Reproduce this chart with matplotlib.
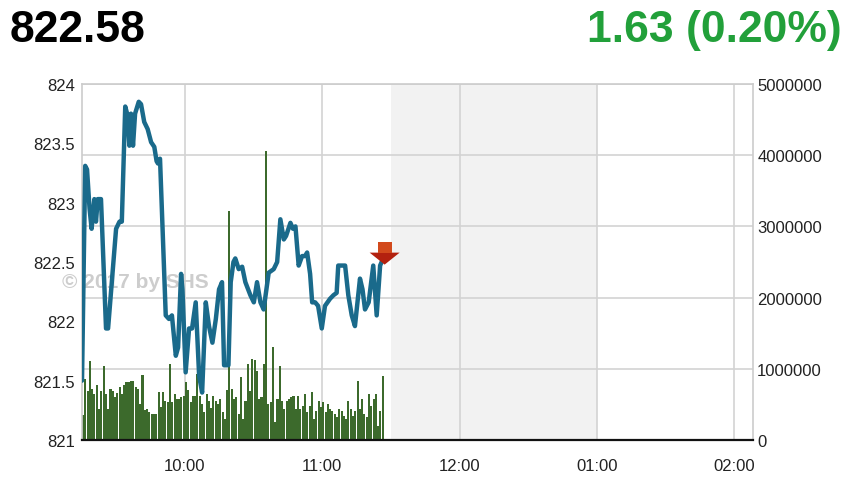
import matplotlib
matplotlib.use("Agg")
import matplotlib.pyplot as plt
from matplotlib.patches import Polygon
from matplotlib.transforms import Affine2D, ScaledTranslation

plt.rcParams['font.family'] = ['Liberation Sans', 'DejaVu Sans']

# ---------------- data ----------------
header_value = "822.58"
header_change = "1.63 (0.20%)"

session_start_hour = 9.25          # 09:15
# price trace: minutes after 09:15, index level
price_minutes = [0, 1.4, 2.2, 3.3, 4.2, 5.4, 6.1, 6.9, 8.3, 10.5,
                 11.4, 14.9, 16.4, 17.4, 18.9, 20.0, 20.7, 21.4, 22.3, 23.2,
                 24.8, 25.8, 27.2, 28.7, 30.2, 31.6, 32.6, 33.2, 34.1, 36.6,
                 38.0, 39.3, 41.0, 42.0, 43.3, 43.9, 45.3, 46.8, 48.1, 49.7,
                 51.2, 52.5, 54.1, 55.5, 57.0, 58.5, 59.9, 61.2, 62.1, 64.0,
                 65.0, 66.2, 67.0, 68.5, 70.0, 71.4, 73.6, 75.1, 76.5, 78.0,
                 79.4, 81.6, 83.8, 85.3, 86.7, 88.2, 89.2, 91.1, 92.2, 93.3,
                 94.7, 96.2, 97.5, 98.4, 99.7, 100.6, 101.9, 103.2, 104.8, 106.2,
                 108.4, 109.9, 111.3, 112.0, 113.7, 115.0, 116.4, 117.9, 119.3, 121.5,
                 122.6, 123.7, 125.3, 127.3, 128.8, 130.3, 131.4]
prices = [821.50, 823.31, 823.28, 822.95, 822.78, 823.03, 822.84, 823.03, 823.03, 821.94,
          821.94, 822.78, 822.84, 822.84, 823.81, 823.73, 823.48, 823.75, 823.48, 823.75,
          823.85, 823.83, 823.68, 823.62, 823.51, 823.47, 823.35, 823.33, 823.37, 822.05,
          822.02, 822.05, 821.71, 821.78, 822.40, 822.27, 821.57, 821.94, 821.94, 822.16,
          821.54, 821.40, 822.16, 821.96, 821.82, 822.02, 822.27, 822.33, 821.63, 821.63,
          822.33, 822.50, 822.53, 822.44, 822.46, 822.33, 822.22, 822.16, 822.33, 822.16,
          822.10, 822.41, 822.44, 822.50, 822.86, 822.69, 822.72, 822.83, 822.78, 822.80,
          822.47, 822.55, 822.55, 822.58, 822.40, 822.16, 822.16, 822.13, 821.94, 822.13,
          822.19, 822.22, 822.24, 822.47, 822.47, 822.47, 822.22, 822.05, 821.96, 822.36,
          822.27, 822.10, 822.16, 822.47, 822.05, 822.47, 822.52]

# volume per minute (millions of shares)
volumes_m = [0.35, 0.85, 0.69, 1.11, 0.72, 0.65, 0.77, 0.43, 0.69, 1.04,
             0.65, 0.43, 0.72, 0.69, 0.60, 0.66, 0.74, 0.65, 0.77, 0.82,
             0.82, 0.83, 0.83, 0.74, 0.72, 0.51, 0.91, 0.42, 0.43, 0.39,
             0.36, 0.37, 0.37, 0.67, 0.46, 0.67, 0.55, 0.53, 1.07, 0.53,
             0.65, 0.58, 0.58, 0.60, 0.62, 0.81, 0.70, 0.53, 0.62, 0.62,
             0.93, 0.62, 0.50, 0.40, 0.65, 0.55, 0.45, 0.62, 0.55, 0.50,
             0.58, 0.40, 0.30, 0.70, 3.22,
             0.72, 0.58, 0.60, 0.36, 0.88, 0.30, 0.55, 1.07, 0.69, 1.14,
             1.12, 0.97, 0.58, 0.60, 1.07, 4.06,
             0.50, 0.53, 1.31, 0.25, 0.58, 1.04, 0.55, 0.44, 0.55, 0.58,
             0.60, 0.62, 0.44, 0.62, 0.44, 0.48, 0.65, 0.39, 0.48,
             0.67, 0.30, 0.41, 0.55, 0.46, 0.53, 0.39, 0.50, 0.44, 0.41,
             0.36, 0.32, 0.44, 0.41, 0.34, 0.30, 0.55, 0.44, 0.34, 0.41,
             0.83, 0.44, 0.58, 0.36, 0.32, 0.65, 0.48, 0.58, 0.65, 0.20,
             0.41, 0.90]

hour_ticks = [10, 11, 12, 13, 14]
hour_labels = ["10:00", "11:00", "12:00", "01:00", "02:00"]
price_ticks = [821, 821.5, 822, 822.5, 823, 823.5, 824]
price_labels = ["821", "821.5", "822", "822.5", "823", "823.5", "824"]
vol_ticks = [0, 1000000, 2000000, 3000000, 4000000, 5000000]
vol_labels = ["0", "1000000", "2000000", "3000000", "4000000", "5000000"]
lunch_break = (11.5, 13.0)

# ---------------- figure ----------------
W, H = 860, 485
fig = plt.figure(figsize=(W / 100, H / 100), dpi=100)
L, R, T, B = 82, 753, 85, 441
axv = fig.add_axes([L / W, 1 - B / H, (R - L) / W, (B - T) / H])
axp = axv.twinx()

price_hours = [session_start_hour + m / 60 for m in price_minutes]
bar_hours = [session_start_hour + (i + 0.45) / 60 for i in range(len(volumes_m))]
vols = [v * 1e6 for v in volumes_m]

grid_c = '#d3d3d3'
axv.axvspan(*lunch_break, color='#f2f2f2', zorder=0.1, lw=0)
axv.set_axisbelow(True)
axv.grid(True, color=grid_c, lw=1.2)
axv.bar(bar_hours, vols, width=0.9 / 60, color='#3c6a2c', zorder=2, lw=0)

axv.set_xlim(9.25, 14.138)
axv.set_ylim(0, 5e6)
axp.set_ylim(821, 824)

axv.set_xticks(hour_ticks)
axv.set_xticklabels(hour_labels)
axv.set_yticks(vol_ticks)
axv.set_yticklabels(vol_labels)
axv.yaxis.tick_right()
axp.yaxis.tick_left()
axp.set_yticks(price_ticks)
axp.set_yticklabels(price_labels)

axv.tick_params(axis='x', length=0, pad=13, labelsize=12, labelcolor='#222222')
axv.tick_params(axis='y', length=0, pad=3, labelsize=12, labelcolor='#222222')
axp.tick_params(axis='y', length=0, pad=5, labelsize=12, labelcolor='#222222')

for s in ['left', 'top', 'right']:
    axv.spines[s].set_color('#cccccc')
    axv.spines[s].set_linewidth(1.2)
axv.spines['bottom'].set_color('#111111')
axv.spines['bottom'].set_linewidth(1.6)
for s in axp.spines.values():
    s.set_visible(False)

# watermark (behind the line)
axp.text((62 - L) / (R - L), (B - 283) / (B - T), '\u00a9 2017 by SHS',
         transform=axp.transAxes, fontsize=15, fontweight='bold',
         color='#cdcdcd', ha='left', va='center', clip_on=False, zorder=1)

axp.plot(price_hours, prices, color='#1a6a8b', lw=3.2,
         solid_joinstyle='round', solid_capstyle='round', zorder=3)

# end-of-data arrow (pixel-sized polygon anchored at the last point)
anchor = Affine2D().scale(1 / 100.) + fig.dpi_scale_trans + \
    ScaledTranslation(price_hours[-1], prices[-1], axp.transData)
tri = Polygon([(2, -5), (-13, 7), (17, 7)], closed=True, transform=anchor,
              facecolor='#b3210f', edgecolor='none', zorder=4)
rect = Polygon([(-5, 7), (9, 7), (9, 18), (-5, 18)], closed=True, transform=anchor,
               facecolor='#d2491c', edgecolor='none', zorder=4)
axp.add_patch(tri)
axp.add_patch(rect)

fig.text(10 / W, 1 - 42 / H, header_value, fontsize=32, fontweight='bold',
         color='black', ha='left', va='baseline')
fig.text(842 / W, 1 - 42 / H, header_change, fontsize=32, fontweight='bold',
         color='#22a03a', ha='right', va='baseline')

fig.savefig('out.png', dpi=100)
